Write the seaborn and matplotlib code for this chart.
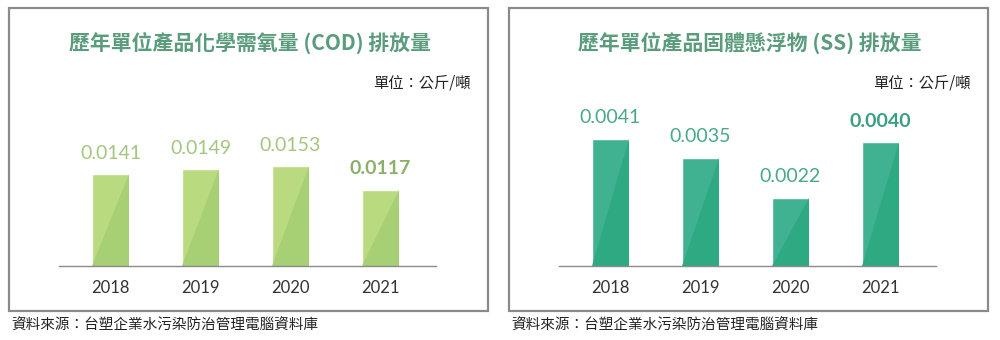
import matplotlib
matplotlib.use("Agg")
import matplotlib.pyplot as plt
import seaborn as sns
import pandas as pd
from matplotlib.patches import Rectangle, Polygon

sns.set_theme(style="white")
plt.rcParams['font.family'] = ['Noto Sans CJK TC', 'DejaVu Sans']

years = ["2018", "2019", "2020", "2021"]
cod_values = [0.0141, 0.0149, 0.0153, 0.0117]
ss_values = [0.0041, 0.0035, 0.0022, 0.0040]
cod_labels = ["0.0141", "0.0149", "0.0153", "0.0117"]
ss_labels = ["0.0041", "0.0035", "0.0022", "0.0040"]
titles = ["歷年單位產品化學需氧量 (COD) 排放量", "歷年單位產品固體懸浮物 (SS) 排放量"]
unit_text = "單位：公斤/噸"
source_text = "資料來源：台塑企業水污染防治管理電腦資料庫"

fig = plt.figure(figsize=(10, 3.4), dpi=100)

panels = [
    dict(vals=cod_values, labels=cod_labels, light="#b9da7f", dark="#a6d073",
         lab="#a3c67f", labbold="#8cb06a", ymax=0.0255, x0=0.0),
    dict(vals=ss_values, labels=ss_labels, light="#40b292", dark="#2eaa83",
         lab="#48a98a", labbold="#3a9f7e", ymax=0.005355, x0=0.5),
]

for i, p in enumerate(panels):
    x0 = p["x0"]
    fig.patches.append(Rectangle((x0 + 0.009, 1 - 311 / 340), 0.479, (311 - 8) / 340,
                                 transform=fig.transFigure, fill=False,
                                 edgecolor="#8a8a8a", linewidth=1.6))
    ax = fig.add_axes([x0 + 0.059, (340 - 266) / 340, 0.377, 166 / 340])
    df = pd.DataFrame({"year": years, "value": p["vals"]})
    sns.barplot(data=df, x="year", y="value", color=p["light"], saturation=1,
                width=0.41, ax=ax)
    for bar in ax.patches:
        bx, by = bar.get_x(), bar.get_y()
        bw, bh = bar.get_width(), bar.get_height()
        ax.add_patch(Polygon([(bx, by), (bx + bw, by), (bx + bw, by + bh)],
                             closed=True, facecolor=p["dark"], edgecolor="none"))
    ax.set_xlim(-0.572, 3.617)
    ax.set_ylim(0, p["ymax"])
    for spine in ["top", "right", "left"]:
        ax.spines[spine].set_visible(False)
    ax.spines["bottom"].set_color("#8a8a8a")
    ax.spines["bottom"].set_linewidth(1.0)
    ax.set_yticks([])
    ax.set_xlabel("")
    ax.set_ylabel("")
    ax.tick_params(axis="x", length=0, pad=10, labelsize=12, labelcolor="#333333")
    for lbl in ax.get_xticklabels():
        lbl.set_family(["Lato", "DejaVu Sans"])
    for j, (v, lab) in enumerate(zip(p["vals"], p["labels"])):
        bold = j == len(years) - 1
        ax.annotate(lab, (j, v), xytext=(0, 9), textcoords="offset points",
                    ha="center", va="bottom", fontsize=14,
                    fontweight="bold" if bold else "normal",
                    color=p["labbold"] if bold else p["lab"],
                    family=["Lato", "DejaVu Sans"])
    fig.text(x0 + 0.25, 1 - 43 / 340, titles[i], ha="center", va="center",
             fontsize=15, fontweight="bold", color="#5a9c7c")
    fig.text(x0 + 0.471, 1 - 83 / 340, unit_text, ha="right", va="center",
             fontsize=11, color="#222222")
    fig.text(x0 + 0.011, 1 - 326 / 340, source_text, ha="left", va="center",
             fontsize=10.5, color="#222222")

fig.savefig("out.png", dpi=100, facecolor="white")
